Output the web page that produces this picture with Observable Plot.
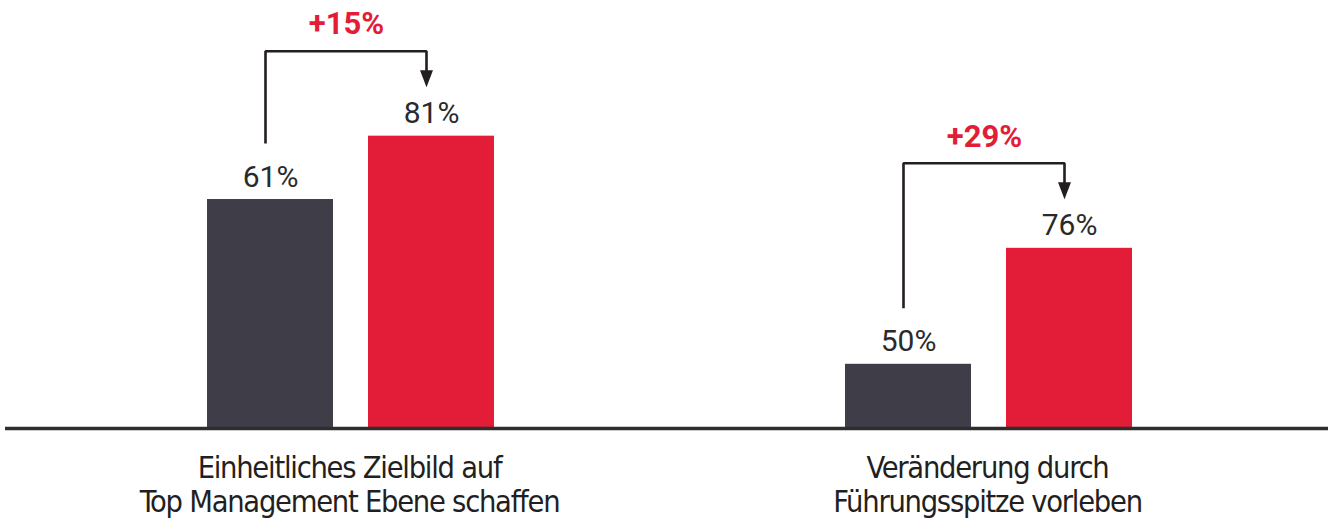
<!DOCTYPE html>
<html>
<head>
<meta charset="utf-8">
<script src="https://cdn.jsdelivr.net/npm/d3@7"></script>
<script src="https://cdn.jsdelivr.net/npm/@observablehq/plot@0.6"></script>
<style>
  html, body { margin: 0; padding: 0; background: #ffffff; }
  #chart svg { display: block; }
  #chart g[font-family*="DejaVu"] { letter-spacing: -1.25px; }
</style>
</head>
<body>
<div id="chart"></div>
<script>
// ---- data ----
const groups = [
  "Einheitliches Zielbild auf\nTop Management Ebene schaffen",
  "Veränderung durch\nFührungsspitze vorleben"
];
const series = ["vorher", "nachher"];
const valuesBefore = [61, 50];        // printed labels, dark bars
const valuesAfter = [81, 76];         // printed labels, red bars
const barHeightBefore = [53.5, 15.0]; // drawn heights (bars are not to a common scale)
const barHeightAfter = [68.3, 42.1];
const changeLabels = ["+15%", "+29%"];

// ---- styling ----
const DARK = "#3f3e48";
const RED = "#e31d37";
const INK = "#231f20";
const PX = 428 / 100; // pixels per y unit

const rows = groups.flatMap((g, i) => [
  {group: g, series: series[0], value: valuesBefore[i], h: barHeightBefore[i]},
  {group: g, series: series[1], value: valuesAfter[i], h: barHeightAfter[i]}
]);
const changes = groups.map((g, i) => ({group: g, label: changeLabels[i], h: barHeightAfter[i]}));
const bracket = groups.flatMap((g, i) => [
  {group: g, series: series[0], y: barHeightBefore[i] + 56 / PX},
  {group: g, series: series[0], y: barHeightAfter[i] + 85 / PX},
  {group: g, series: series[1], y: barHeightAfter[i] + 85 / PX},
  {group: g, series: series[1], y: barHeightAfter[i] + 64 / PX}
]);
const arrows = groups.map((g, i) => ({group: g, series: series[1], y: barHeightAfter[i] + 57.5 / PX}));
const cats = groups.map(g => ({group: g}));
const baseLeft = [{group: groups[0], y: 0}];
const baseRight = [{group: groups[1], y: 0}];

const triangleDown = {
  draw(ctx) {
    ctx.moveTo(-6.5, -8.5);
    ctx.lineTo(6.5, -8.5);
    ctx.lineTo(0, 8.5);
    ctx.closePath();
  }
};

const chart = Plot.plot({
  width: 1328,
  height: 518,
  marginTop: 0,
  marginBottom: 90,
  marginLeft: 4,
  marginRight: 0,
  style: {background: "#ffffff", fontFamily: "Roboto, sans-serif"},
  fx: {domain: groups, paddingInner: 0, paddingOuter: 0.036, align: 0.576, axis: null, label: null},
  x: {domain: series, paddingInner: 0.216, paddingOuter: 1.08, axis: null, label: null},
  y: {domain: [0, 100], axis: null},
  color: {domain: series, range: [DARK, RED]},
  marks: [
    Plot.barY(rows, {fx: "group", x: "series", y: "h", fill: "series"}),
    Plot.ruleY(baseLeft, {fx: "group", y: "y", stroke: "#2e2e2e", strokeWidth: 3.3, insetLeft: -27, strokeLinecap: "butt"}),
    Plot.ruleY(baseRight, {fx: "group", y: "y", stroke: "#2e2e2e", strokeWidth: 3.3, insetRight: -20, strokeLinecap: "butt"}),
    Plot.text(rows, {
      fx: "group", x: "series", y: "h", text: d => d.value + "%",
      dy: -13, lineAnchor: "bottom", fontSize: 30, fill: "#2a2a2a",
      fontFamily: "Roboto, sans-serif"
    }),
    Plot.line(bracket, {
      fx: "group", x: "series", y: "y", z: "group", dx: -5,
      stroke: INK, strokeWidth: 2.6, strokeLinejoin: "miter", strokeLinecap: "butt"
    }),
    Plot.dot(arrows, {
      fx: "group", x: "series", y: "y", dx: -5, symbol: triangleDown,
      fill: INK, stroke: "none", r: 5
    }),
    Plot.text(changes, {
      fx: "group", y: "h", text: "label", dx: -5, dy: -101.7,
      lineAnchor: "bottom", fontSize: 31, fontWeight: "bold", fill: RED,
      fontFamily: "Roboto, sans-serif"
    }),
    Plot.text(cats, {
      fx: "group", text: "group", frameAnchor: "bottom", lineAnchor: "top",
      dy: 25, dx: -2, fontSize: 30.5, lineHeight: 1.125, fill: "#231f20",
      fontFamily: "'DejaVu Sans Condensed', sans-serif"
    })
  ]
});
document.getElementById("chart").appendChild(chart);
</script>
</body>
</html>
